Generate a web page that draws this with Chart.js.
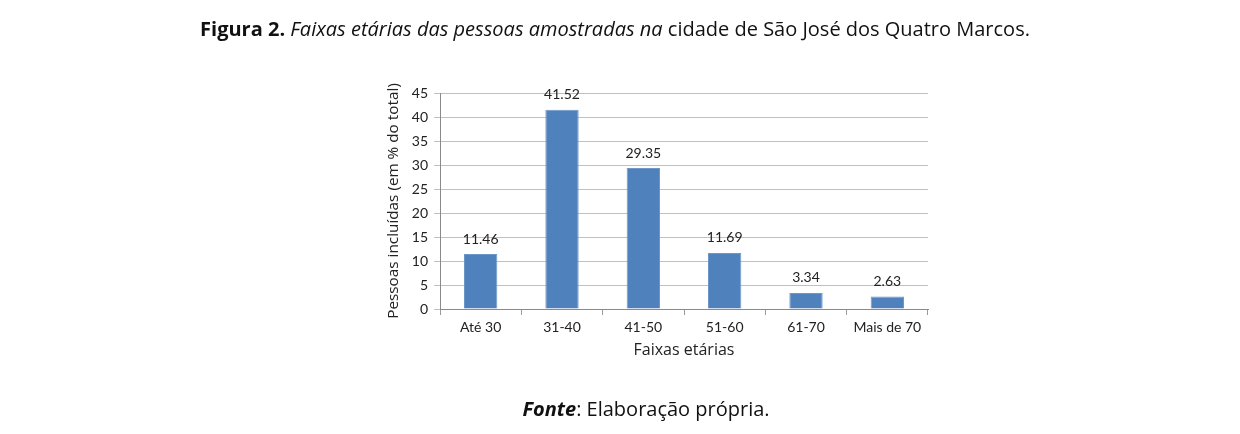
<!DOCTYPE html>
<html>
<head>
<meta charset="utf-8">
<script src="https://cdn.jsdelivr.net/npm/chart.js@4"></script>
<style>
  html, body { margin:0; padding:0; background:#fff; width:1240px; height:434px; overflow:hidden; }
  #wrap { position:relative; width:1240px; height:434px; }
  canvas { position:absolute; left:0; top:0; }
  .cap { position:absolute; width:1240px; text-align:center; font-family:"Open Sans", Lato, sans-serif; color:#111; white-space:nowrap; }
  #title { top:15px; left:-5px; font-size:20px; }
  #src { top:395px; left:26px; font-size:20px; }
</style>
</head>
<body>
<div id="wrap">
  <canvas id="c" width="1240" height="434"></canvas>
  <div id="title" class="cap"><b>Figura 2.</b> <i>Faixas etárias das pessoas amostradas na</i> cidade de São José dos Quatro Marcos.</div>
  <div id="src" class="cap"><b><i>Fonte</i></b>: Elaboração própria.</div>
</div>
<script>
const categories = ["Até 30", "31-40", "41-50", "51-60", "61-70", "Mais de 70"];
const values = [11.46, 41.52, 29.35, 11.69, 3.34, 2.63];
const valueLabels = ["11.46", "41.52", "29.35", "11.69", "3.34", "2.63"];
const yTitle = "Pessoas incluídas (em % do total)";
const xTitle = "Faixas etárias";

const FONT = "Lato, 'Open Sans', sans-serif";
const TFONT = "'Open Sans', Lato, sans-serif";

const valueLabelPlugin = {
  id: 'valueLabels',
  afterDatasetsDraw(chart) {
    const ctx = chart.ctx;
    const meta = chart.getDatasetMeta(0);
    ctx.save();
    ctx.font = "14px " + FONT;
    ctx.fillStyle = "#222";
    ctx.textAlign = "center";
    ctx.textBaseline = "middle";
    meta.data.forEach((bar, i) => {
      ctx.fillText(valueLabels[i], bar.x, bar.y - 15);
    });
    ctx.restore();
  }
};

new Chart(document.getElementById('c'), {
  type: 'bar',
  data: {
    labels: categories,
    datasets: [{
      data: values,
      backgroundColor: '#4F81BD',
      borderColor: '#6E97C8',
      borderWidth: 1,
      barPercentage: 0.41,
      categoryPercentage: 1.0
    }]
  },
  options: {
    responsive: false,
    animation: false,
    layout: { padding: { left: 380, right: 312, top: 93, bottom: 74 } },
    plugins: { legend: { display: false }, tooltip: { enabled: false }, title: { display: false } },
    scales: {
      x: {
        afterFit(s) { s.height = 51; },
        grid: { display: true, offset: true, drawOnChartArea: false, drawTicks: true, tickLength: 6, color: '#9a9a9a' },
        border: { display: true, color: '#8a8a8a', width: 1 },
        ticks: { font: { family: FONT, size: 14 }, color: '#222', padding: 4 },
        title: { display: true, text: xTitle, font: { family: TFONT, size: 16 }, color: '#222', padding: { top: 0, bottom: 0 } }
      },
      y: {
        min: 0, max: 45,
        afterFit(s) { s.width = 60; },
        grid: { color: '#c0c0c0', tickLength: 6, drawTicks: true },
        border: { display: true, color: '#8a8a8a', width: 1 },
        ticks: { stepSize: 5, font: { family: FONT, size: 14 }, color: '#222', padding: 6 },
        title: { display: true, text: yTitle, font: { family: TFONT, size: 15.3 }, color: '#222', padding: { top: 4, bottom: 0 } }
      }
    }
  },
  plugins: [valueLabelPlugin]
});
</script>
</body>
</html>
